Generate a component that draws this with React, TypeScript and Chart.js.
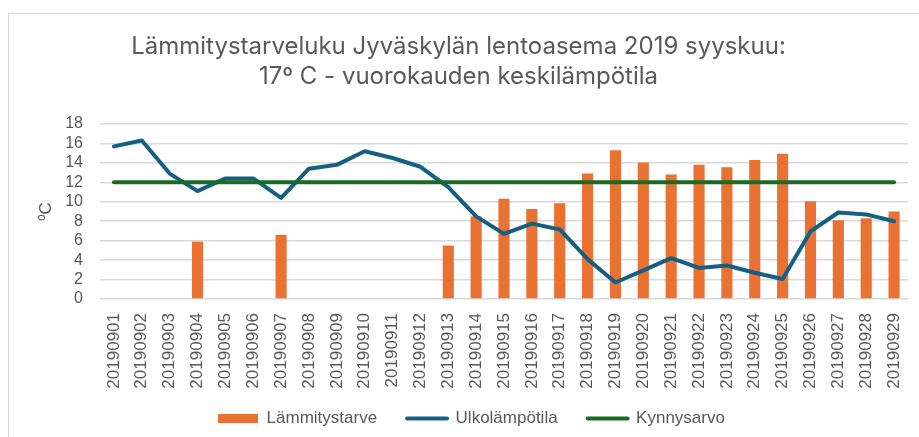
import React, { useEffect, useRef } from "react";
import { Chart, registerables } from "chart.js";

Chart.register(...registerables);

const dates = [
  "20190901", "20190902", "20190903", "20190904", "20190905", "20190906", "20190907",
  "20190908", "20190909", "20190910", "20190911", "20190912", "20190913", "20190914",
  "20190915", "20190916", "20190917", "20190918", "20190919", "20190920", "20190921",
  "20190922", "20190923", "20190924", "20190925", "20190926", "20190927", "20190928",
  "20190929",
];

const heatNeed = [
  0, 0, 0, 5.9, 0, 0, 6.6, 0, 0, 0, 0, 0, 5.5, 8.5, 10.3, 9.25, 9.85, 12.9, 15.3,
  14.05, 12.8, 13.8, 13.55, 14.3, 14.95, 10.05, 8.1, 8.3, 9.0,
];

const outdoorTemp = [
  15.7, 16.3, 12.9, 11.1, 12.4, 12.4, 10.4, 13.4, 13.8, 15.2, 14.5, 13.6, 11.5, 8.5,
  6.7, 7.75, 7.15, 4.1, 1.7, 2.95, 4.2, 3.2, 3.45, 2.7, 2.05, 6.95, 8.9, 8.7, 8.0,
];

const threshold = [
  12, 12, 12, 12, 12, 12, 12, 12, 12, 12, 12, 12, 12, 12, 12, 12, 12, 12, 12, 12, 12,
  12, 12, 12, 12, 12, 12, 12, 12,
];

const seriesNames = ["Lämmitystarve", "Ulkolämpötila", "Kynnysarvo"];
const titleLines = [
  "Lämmitystarveluku Jyväskylän lentoasema 2019 syyskuu:",
  "17º C - vuorokauden keskilämpötila",
];
const yAxisTitle = "ºC";

const ORANGE = "#E97132";
const BLUE = "#156082";
const GREEN = "#196B24";
const TEXT = "#595959";
const GRID = "#D9D9D9";
const SANS = "'Liberation Sans', Arial, sans-serif";

const layoutTweaks = {
  id: "layoutTweaks",
  afterLayout(chart: any) {
    const lg = chart.legend;
    if (lg) {
      lg.left += 13;
      lg.right += 13;
    }
    const xs = chart.scales && chart.scales.x;
    if (xs) {
      // let the rotated date labels extend below the axis box (they overlap nothing)
      xs.bottom += 14;
    }
  },
};

export default function App() {
  const canvasRef = useRef<HTMLCanvasElement | null>(null);

  useEffect(() => {
    const canvas = canvasRef.current;
    if (!canvas) return;
    const chart = new Chart(canvas, {
      type: "bar",
      data: {
        labels: dates,
        datasets: [
          {
            type: "bar",
            label: seriesNames[0],
            data: heatNeed,
            backgroundColor: ORANGE,
            borderWidth: 0,
            barPercentage: 0.4,
            categoryPercentage: 1,
            order: 3,
          },
          {
            type: "line",
            label: seriesNames[1],
            data: outdoorTemp,
            borderColor: BLUE,
            backgroundColor: BLUE,
            borderWidth: 4,
            pointRadius: 0,
            tension: 0,
            borderJoinStyle: "round",
            borderCapStyle: "round",
            order: 2,
          },
          {
            type: "line",
            label: seriesNames[2],
            data: threshold,
            borderColor: GREEN,
            backgroundColor: GREEN,
            borderWidth: 4,
            pointRadius: 0,
            tension: 0,
            borderCapStyle: "round",
            order: 1,
          },
        ],
      },
      options: {
        animation: false,
        responsive: false,
        devicePixelRatio: 1,
        layout: { padding: { left: 0, right: 11, top: 0, bottom: 0 } },
        plugins: {
          tooltip: { enabled: false },
          title: {
            display: true,
            text: titleLines,
            color: TEXT,
            font: { family: "Inter, sans-serif", size: 24, weight: "normal", lineHeight: 1.25 },
            padding: { top: 18, bottom: 32 },
          },
          legend: {
            display: true,
            position: "bottom",
            labels: {
              color: TEXT,
              font: { family: SANS, size: 17 },
              usePointStyle: true,
              pointStyleWidth: 40,
              boxHeight: 9,
              padding: 30,
              generateLabels: () => [
                {
                  text: seriesNames[0],
                  fillStyle: ORANGE,
                  strokeStyle: ORANGE,
                  lineWidth: 0,
                  pointStyle: "rect",
                  fontColor: TEXT,
                  datasetIndex: 0,
                  hidden: false,
                },
                {
                  text: seriesNames[1],
                  fillStyle: BLUE,
                  strokeStyle: BLUE,
                  lineWidth: 4,
                  lineCap: "round",
                  pointStyle: "line",
                  fontColor: TEXT,
                  datasetIndex: 1,
                  hidden: false,
                },
                {
                  text: seriesNames[2],
                  fillStyle: GREEN,
                  strokeStyle: GREEN,
                  lineWidth: 4,
                  lineCap: "round",
                  pointStyle: "line",
                  fontColor: TEXT,
                  datasetIndex: 2,
                  hidden: false,
                },
              ],
            },
          },
        },
        scales: {
          x: {
            grid: { display: false, drawTicks: false },
            border: { display: false },
            ticks: {
              color: TEXT,
              font: { family: SANS, size: 17 },
              minRotation: 90,
              maxRotation: 90,
              autoSkip: false,
              padding: 14,
            },
            afterFit: (scale: any) => {
              scale.height = 81;
              scale.paddingLeft = 0;
              scale.paddingRight = 0;
            },
          },
          y: {
            min: 0,
            max: 18,
            grid: { color: GRID, lineWidth: 1.5, drawTicks: false },
            border: { display: false },
            ticks: {
              stepSize: 2,
              autoSkip: false,
              color: TEXT,
              font: { family: SANS, size: 16 },
              padding: 17,
            },
            title: {
              display: true,
              text: yAxisTitle,
              color: TEXT,
              font: { family: SANS, size: 17 },
              padding: { top: 27, bottom: 0 },
            },
            afterFit: (scale: any) => {
              scale.width = 91;
            },
          },
        },
      },
      plugins: [layoutTweaks],
    });
    return () => chart.destroy();
  }, []);

  return (
    <div
      style={{
        position: "fixed",
        left: 8,
        top: 13,
        width: 911,
        height: 424,
        boxSizing: "border-box",
        borderTop: `1.5px solid ${GRID}`,
        borderLeft: `1.5px solid ${GRID}`,
        background: "#fff",
      }}
    >
      <canvas ref={canvasRef} width={910} height={423} style={{ width: 910, height: 423, display: "block" }} />
    </div>
  );
}
